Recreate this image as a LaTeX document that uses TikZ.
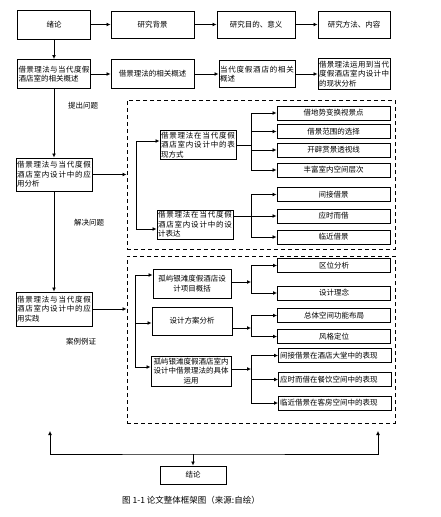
\documentclass[tikz,border=0pt]{standalone}
\usepackage{fontspec}
\setmainfont{Noto Sans CJK SC}
\XeTeXlinebreaklocale "zh"
\XeTeXlinebreakskip=0pt plus 1pt
\usetikzlibrary{arrows.meta}
\tikzset{
  box/.style={draw,line width=1pt,inner sep=1pt,font=\fontsize{7.5}{9.5}\selectfont},
  para/.style={box,text width=#1,align=justify},
  leaf/.style={box,minimum width=113pt,minimum height=14pt},
  arr/.style={-{Latex[length=4pt,width=4pt]},line width=0.9pt},
  dashbox/.style={draw,dash pattern=on 4pt off 3pt,line width=1pt},
  note/.style={font=\fontsize{7.5}{9}\selectfont}
}
\begin{document}
\begin{tikzpicture}[x=1pt,y=-1pt]
          \useasboundingbox (0,0) rectangle (440,517);
          \node[box,minimum width=73pt,minimum height=29pt] (X1) at (54,24.5) {绪论};
          \node[box,minimum width=83pt,minimum height=27pt] (X2) at (152.5,24.5) {研究背景};
          \node[box,minimum width=78pt,minimum height=27pt] (X3) at (256,24.5) {研究目的、意义};
          \node[box,minimum width=72pt,minimum height=27pt] (X4) at (354,24.5) {研究方法、内容};
          \draw[arr] (X1) -- (X2);
          \draw[arr] (X2) -- (X3);
          \draw[arr] (X3) -- (X4);
          \node[para=71pt,minimum height=29pt] (G1) at (54,74) {借景理法与当代度假酒店室的相关概述};
          \node[box,minimum width=83pt,minimum height=29pt] (G2) at (152.5,74) {借景理法的相关概述};
          \node[para=74pt,minimum height=27pt] (G3) at (257,74) {当代度假酒店的相关概述};
          \node[para=70pt,minimum height=31pt] (G4) at (354,74) {借景理法运用到当代度假酒店室内设计中的现状分析};
          \draw[arr] (X1) -- (G1);
          \draw[arr] (G1) -- (G2);
          \draw[arr] (G2) -- (G3);
          \draw[arr] (G3) -- (G4);
          \node[para=74pt,minimum height=33pt] (F1) at (54,174.5) {借景理法与当代度假酒店室内设计中的应用分析};
          \node[para=74pt,minimum height=34pt] (F2) at (54,309) {借景理法与当代度假酒店室内设计中的应用实践};
          \draw[arr] (G1) -- (F1);
          \draw[arr] (F1) -- (F2);
          \node[note] (T1) at (83,106) {提出问题};
          \node[note] (T2) at (89,223) {解决问题};
          \node[note] (T3) at (81,342) {案例例证};
          \node[dashbox,minimum width=268pt,minimum height=149pt] (K1) at (261,174.5) {};
          \node[dashbox,minimum width=268pt,minimum height=167pt] (K2) at (261,339.5) {};
          \draw[arr] (F1) -- (K1);
          \draw[arr] (F2) -- (K2.west |- F2);
          \node[para=74pt,minimum height=29pt] (A1) at (198,145) {借景理法在当代度假酒店室内设计中的表现方式};
          \node[para=74pt,minimum height=29pt] (A2) at (195,224.5) {借景理法在当代度假酒店室内设计中的设计表达};
          \coordinate (b1) at (136,141);
          \coordinate (b2) at (136,229);
          \draw[arr] (b1) -- (A1.west |- b1);
          \draw[arr] (b1) |- (A2.west |- b2);
          \node[leaf] (L1) at (333.5,113) {借地势变换视景点};
          \node[leaf] (L2) at (333.5,131.5) {借景范围的选择};
          \node[leaf] (L3) at (333.5,150) {开辟赏景透视线};
          \node[leaf] (L4) at (333.5,170) {丰富室内空间层次};
          \coordinate (r1) at (251,145);
          \draw[line width=0.9pt] (A1.east) -- (r1);
          \draw[line width=0.9pt] (r1 |- L1) -- (r1 |- L4);
          \foreach \n in {L1,L2,L3,L4}
            \draw[arr] (r1 |- \n) -- (\n);
          \node[leaf] (M1) at (333.5,194.5) {间接借景};
          \node[leaf] (M2) at (333.5,216) {应时而借};
          \node[leaf] (M3) at (333.5,237) {临近借景};
          \draw[arr] (A2.east |- M2) -- (M2);
          \draw[line width=0.9pt] (r1 |- M1) -- (r1 |- M3);
          \foreach \n in {M1,M3}
            \draw[arr] (r1 |- \n) -- (\n);
          \node[box,align=center,minimum width=78pt,minimum height=29pt] (C1) at (192,283.5) {孤屿银滩度假酒店设\\计项目概括};
          \node[box,minimum width=80pt,minimum height=28pt] (C2) at (192,321) {设计方案分析};
          \node[box,align=center,minimum width=80pt,minimum height=30pt] (C3) at (191,371) {孤屿银滩度假酒店室内\\设计中借景理法的具体\\运用};
          \coordinate (c1) at (135,275);
          \coordinate (c2) at (135,323);
          \coordinate (c3) at (135,367);
          \draw[arr] (c1) -- (C1.west |- c1);
          \draw[arr] (c2) -- (C2.west |- c2);
          \draw[arr] (c1) |- (C3.west |- c3);
          \node[leaf] (N1) at (334,265.5) {区位分析};
          \node[leaf] (N2) at (334,293) {设计理念};
          \node[leaf] (P1) at (334,315.5) {总体空间功能布局};
          \node[leaf] (P2) at (334,336.5) {风格定位};
          \node[leaf,text width=110pt,align=left] (Q1) at (335,355.5) {间接借景在酒店大堂中的表现};
          \node[leaf,text width=110pt,align=left] (Q2) at (335,379.5) {应时而借在餐饮空间中的表现};
          \node[leaf,text width=110pt,align=left] (Q3) at (335,403) {临近借景在客房空间中的表现};
          \coordinate (r2) at (251,282);
          \coordinate (r3) at (251,328);
          \coordinate (r4) at (251,369);
          \draw[arr] (C1.east |- r2) -- (r2);
          \draw[arr] (C2.east |- r3) -- (r3);
          \draw[arr] (C3.east |- r4) -- (r4);
          \draw[line width=0.9pt] (r2 |- N1) -- (r2 |- N2);
          \draw[line width=0.9pt] (r3 |- P1) -- (r3 |- P2);
          \draw[line width=0.9pt] (r4 |- Q1) -- (r4 |- Q3);
          \foreach \n in {N1,N2,P1,P2,Q1,Q2,Q3}
            \draw[arr] (r2 |- \n) -- (\n);
          \node[box,minimum width=66pt,minimum height=18pt] (J) at (193,475) {结论};
          \coordinate (u1) at (50,431);
          \coordinate (u2) at (378,431);
          \coordinate (h) at (193,454);
          \draw[{Latex[length=4pt,width=4pt]}-{Latex[length=4pt,width=4pt]},line width=0.9pt] (u1) |- (h) -| (u2);
          \draw[arr] (h) -- (J);
          \node[font=\fontsize{8.5}{10}\selectfont] (cap) at (191,500) {图\ 1-1 论文整体框架图（来源:自绘）};
        \end{tikzpicture}
\end{document}
